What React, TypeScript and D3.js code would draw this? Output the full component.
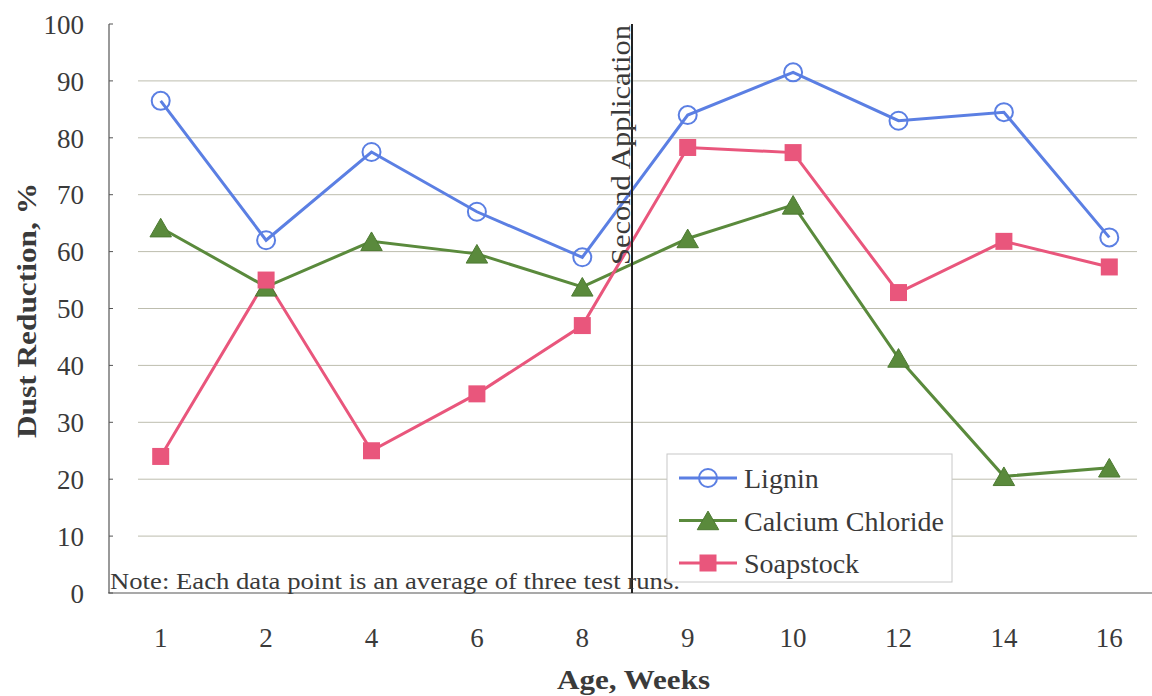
import React from "react";
import * as d3 from "d3";

const weeks = ["1", "2", "4", "6", "8", "9", "10", "12", "14", "16"];
const lignin = [86.5, 62, 77.5, 67, 59, 84, 91.5, 83, 84.5, 62.5];
const calcium = [64.2, 53.8, 61.8, 59.6, 53.8, 62.3, 68.2, 41.3, 20.5, 22];
const soapstock = [24, 55, 25, 35, 47, 78.3, 77.4, 52.8, 61.8, 57.3];
const yTicks = [0, 10, 20, 30, 40, 50, 60, 70, 80, 90, 100];
const seriesNames = ["Lignin", "Calcium Chloride", "Soapstock"];

const W = 1152;
const H = 696;
const FONT = "'Liberation Serif', 'DejaVu Serif', serif";
const TEXT = "#3a3a3a";
const BLUE = "#5b7fe3";
const GREEN = "#5a8a3c";
const PINK = "#e9567c";

export default function App() {
  const x = d3.scaleBand<string>().domain(weeks).range([108, 1162]);
  const y = d3.scaleLinear().domain([0, 100]).range([593, 24]);
  const cx = (w: string) => (x(w) as number) + x.bandwidth() / 2;
  const line = d3
    .line<number>()
    .x((_, i) => cx(weeks[i]))
    .y((d) => y(d));
  const tri = d3.symbol().type(d3.symbolTriangle).size(200)() as string;
  const sepX = 632;

  const circle = (px: number, py: number, k: string | number) => (
    <circle key={k} cx={px} cy={py} r={9} fill="none" stroke={BLUE} strokeWidth={2} />
  );
  const triangle = (px: number, py: number, k: string | number) => (
    <path key={k} d={tri} transform={`translate(${px},${py + 3})`} fill={GREEN} stroke="#4d7a32" strokeWidth={1} />
  );
  const square = (px: number, py: number, k: string | number) => (
    <rect key={k} x={px - 8.5} y={py - 8.5} width={17} height={17} fill={PINK} />
  );

  const legendItems = [
    { name: seriesNames[0], color: BLUE, mk: circle },
    { name: seriesNames[1], color: GREEN, mk: triangle },
    { name: seriesNames[2], color: PINK, mk: square },
  ];

  return (
    <svg width={W} height={H} style={{ position: "absolute", left: 0, top: 0, background: "#fff" }} fontFamily={FONT}>
      <rect x={0} y={0} width={W} height={H} fill="#fff" />
      {/* gridlines */}
      {yTicks
        .filter((t) => t > 0 && t < 100)
        .map((t) => (
          <line key={t} x1={138} x2={1137} y1={y(t)} y2={y(t)} stroke="#bdbdae" strokeWidth={1} />
        ))}
      {/* y axis */}
      <line x1={109} x2={109} y1={y(100)} y2={y(0)} stroke="#555" strokeWidth={1.2} />
      {yTicks.map((t) => (
        <g key={t}>
          <line x1={109} x2={113} y1={y(t)} y2={y(t)} stroke="#555" strokeWidth={1} />
          <text x={84} y={y(t)} dy="0.36em" textAnchor="end" fontSize={27} fill={TEXT}>
            {t}
          </text>
        </g>
      ))}
      {/* x axis */}
      <line x1={108} x2={W} y1={y(0)} y2={y(0)} stroke="#555" strokeWidth={1.2} />
      {weeks.map((w) => (
        <text key={w} x={cx(w)} y={647} textAnchor="middle" fontSize={27} fill={TEXT}>
          {w}
        </text>
      ))}
      <text
        x={557}
        y={689}
        fontSize={27}
        fontWeight="bold"
        fill={TEXT}
        textLength={153}
        lengthAdjust="spacingAndGlyphs"
      >
        Age, Weeks
      </text>
      <text
        transform={`translate(36,438) rotate(-90)`}
        fontSize={27}
        fontWeight="bold"
        fill={TEXT}
        textLength={255}
        lengthAdjust="spacingAndGlyphs"
      >
        Dust Reduction, %
      </text>
      {/* series lines */}
      <path d={line(lignin) as string} fill="none" stroke={BLUE} strokeWidth={3} />
      <path d={line(calcium) as string} fill="none" stroke={GREEN} strokeWidth={3} />
      <path d={line(soapstock) as string} fill="none" stroke={PINK} strokeWidth={3} />
      {/* second application */}
      <line x1={sepX} x2={sepX} y1={y(100)} y2={y(0)} stroke="#222" strokeWidth={2} />
      <text
        transform={`translate(${sepX - 2},265) rotate(-90)`}
        fontSize={27}
        fill={TEXT}
        textLength={240}
        lengthAdjust="spacingAndGlyphs"
      >
        Second Application
      </text>
      {/* markers */}
      {lignin.map((v, i) => circle(cx(weeks[i]), y(v), "l" + i))}
      {calcium.map((v, i) => triangle(cx(weeks[i]), y(v), "c" + i))}
      {soapstock.map((v, i) => square(cx(weeks[i]), y(v), "s" + i))}
      {/* note */}
      <text x={110} y={589} fontSize={23} fill={TEXT} textLength={570} lengthAdjust="spacingAndGlyphs">
        Note: Each data point is an average of three test runs.
      </text>
      {/* legend */}
      <rect x={667} y={454} width={285} height={128} fill="#fff" stroke="#c8c8c8" strokeWidth={1} />
      {legendItems.map((it, i) => {
        const ly = 478 + i * 42.5;
        return (
          <g key={it.name}>
            <line x1={679} x2={737} y1={ly} y2={ly} stroke={it.color} strokeWidth={3} />
            {it.mk(708, ly, "m" + i)}
            <text x={744} y={ly} dy="0.36em" fontSize={28} fill={TEXT}>
              {it.name}
            </text>
          </g>
        );
      })}
    </svg>
  );
}
